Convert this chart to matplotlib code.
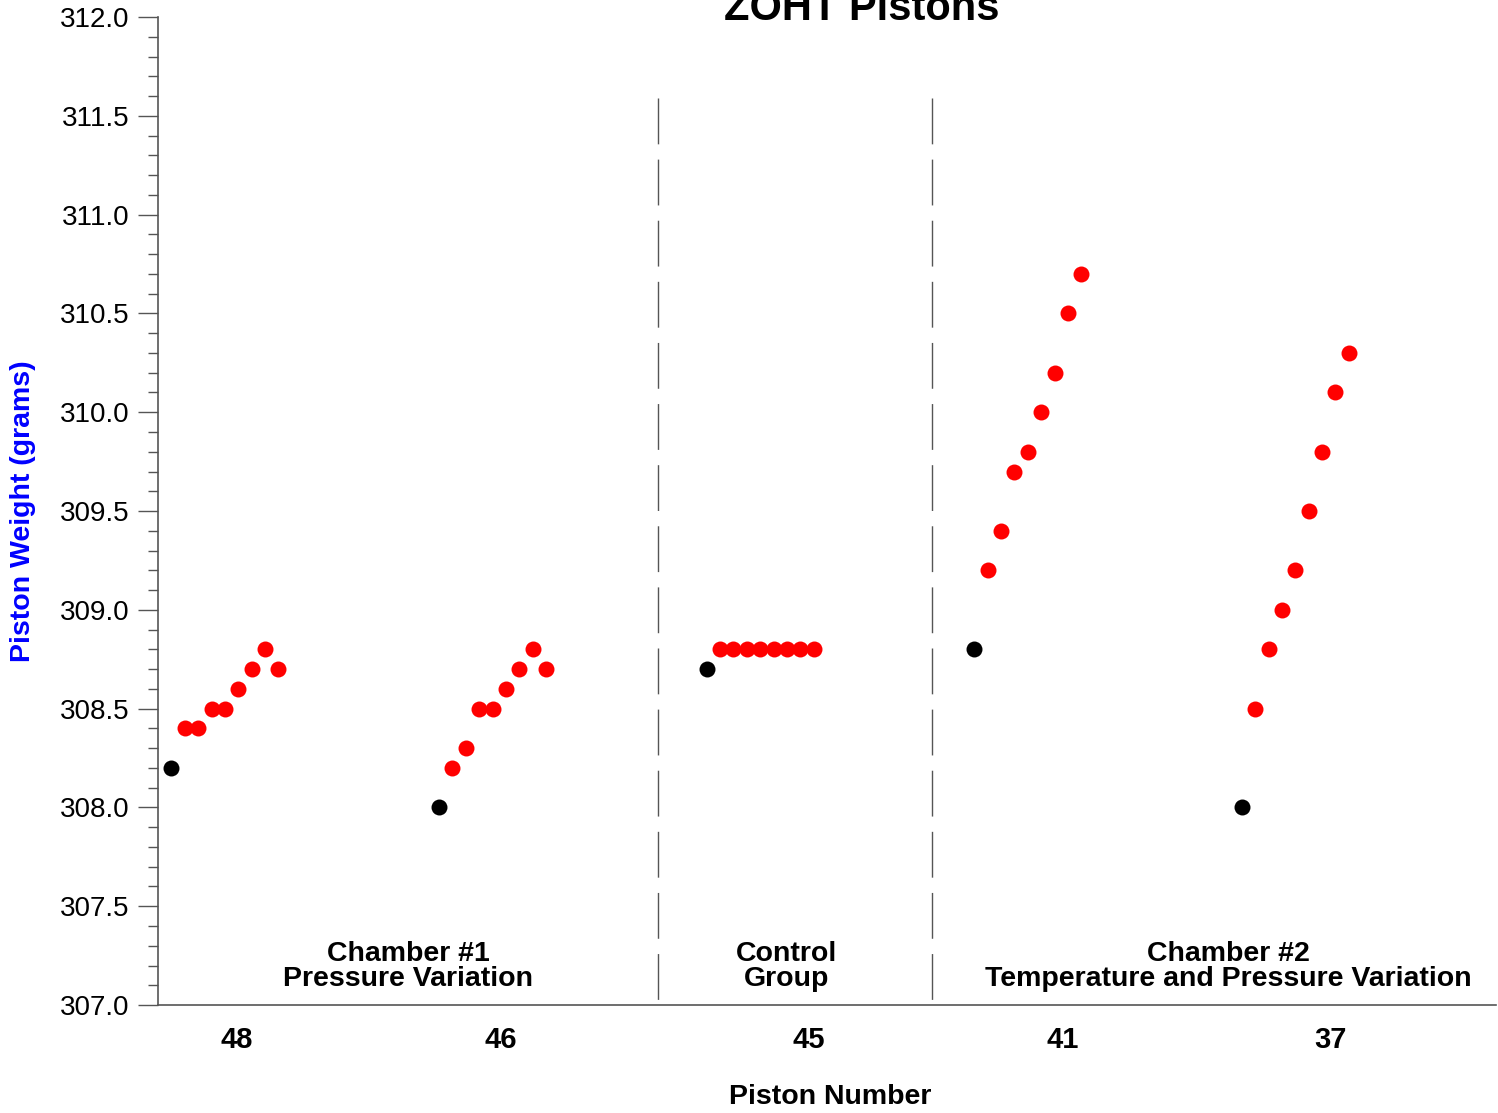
import matplotlib.pyplot as plt
import numpy as np
from matplotlib.ticker import MultipleLocator

plt.rcParams['font.family'] = ['Liberation Sans', 'DejaVu Sans']

# pistons, in the order they are plotted
pistons = ["48", "46", "45", "41", "37"]

# first (black) reading, then the later (red) readings of each piston
first_weight = [308.2, 308.0, 308.7, 308.8, 308.0]
later_weights = [
    [308.4, 308.4, 308.5, 308.5, 308.6, 308.7, 308.8, 308.7],
    [308.2, 308.3, 308.5, 308.5, 308.6, 308.7, 308.8, 308.7],
    [308.8, 308.8, 308.8, 308.8, 308.8, 308.8, 308.8, 308.8],
    [309.2, 309.4, 309.7, 309.8, 310.0, 310.2, 310.5, 310.7],
    [308.5, 308.8, 309.0, 309.2, 309.5, 309.8, 310.1, 310.3],
]

# where the piston numbers sit along the axis
tick_pos = [5.9, 25.6, 48.6, 67.6, 87.6]

# group boundaries and group captions
dividers = [37.4, 57.85]
group_names = ["Chamber #1\nPressure Variation", "Control\nGroup",
               "Chamber #2\nTemperature and Pressure Variation"]
group_x = [18.7, 47.0, 80.0]

fig = plt.figure(figsize=(14.98, 11.13), dpi=100)
ax = fig.add_axes([0.1055, 0.0970, 0.8932, 0.8877])

for i in range(len(pistons)):
    x0 = 20 * i + 1
    ax.plot(x0, first_weight[i], 'o', color='black', ms=11.5, mec='none', clip_on=False)
    xs = x0 + 1 + np.arange(len(later_weights[i]))
    ax.plot(xs, later_weights[i], 'o', color='red', ms=11.5, mec='none', clip_on=False)

for d in dividers:
    ax.plot([d, d], [311.59, 307.0], color='#555555', lw=1, dashes=(33, 11))

for name, gx in zip(group_names, group_x):
    ax.text(gx, 307.196, name, ha='center', va='center', fontsize=20.5,
            fontweight='bold', linespacing=0.92)

ax.set_xlim(0, 100)
ax.set_ylim(307.0, 312.0)
ax.yaxis.set_major_locator(MultipleLocator(0.5))
ax.yaxis.set_minor_locator(MultipleLocator(0.1))
ax.yaxis.set_major_formatter(plt.FormatStrFormatter('%.1f'))
ax.set_xticks(tick_pos)
ax.set_xticklabels(pistons, fontsize=21, fontweight='bold')
ax.tick_params(axis='x', length=0, pad=15)
ax.tick_params(axis='y', which='major', length=14.4, width=1, labelsize=20, pad=6, color='#555555')
ax.tick_params(axis='y', which='minor', length=7.2, width=1, color='#555555')

for s in ['top', 'right']:
    ax.spines[s].set_visible(False)
for s in ['left', 'bottom']:
    ax.spines[s].set_color('#555555')
    ax.spines[s].set_linewidth(1.2)

ax.set_xlabel("Piston Number", fontsize=20.5, fontweight='bold')
ax.xaxis.set_label_coords(0.502, -0.080)
ax.set_ylabel("Piston Weight (grams)", fontsize=20.5, fontweight='bold', color='blue')
ax.yaxis.set_label_coords(-0.0915, 0.5)

fig.text(0.5754, 0.982, "ZOHT Pistons", ha='center', va='baseline',
         fontsize=30, fontweight='bold')

plt.savefig("out.png", dpi=100)
